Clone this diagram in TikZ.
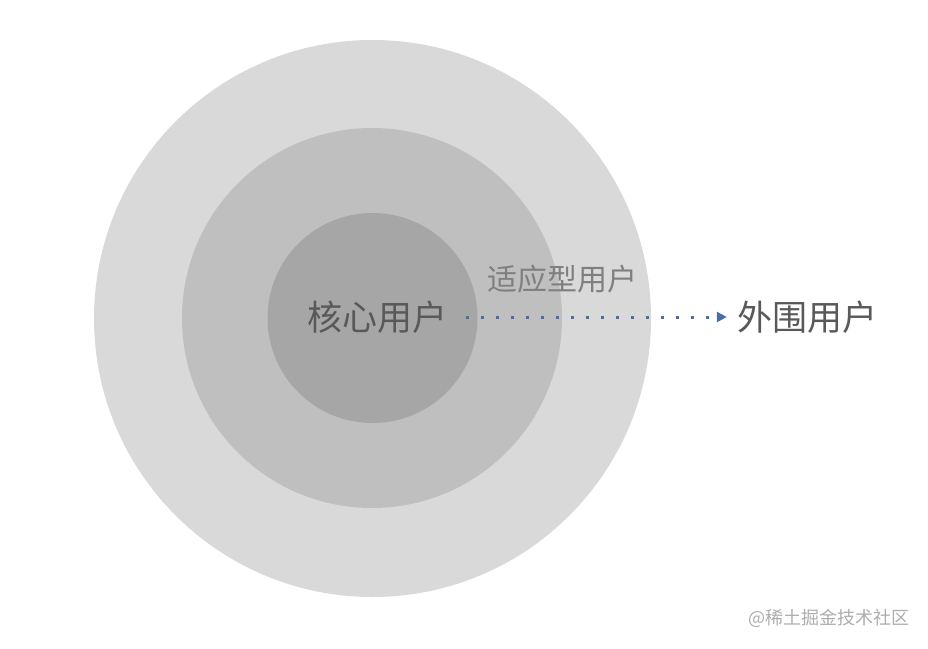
\documentclass[tikz,border=0pt]{standalone}
\usepackage{fontspec}
\setmainfont{Noto Sans CJK SC}
\usetikzlibrary{shapes, arrows.meta, positioning}
\definecolor{outerColor}{HTML}{D9D9D9}
\definecolor{midColor}{HTML}{BFBFBF}
\definecolor{coreColor}{HTML}{A6A6A6}
\definecolor{textColor}{HTML}{595959}
\definecolor{lightText}{HTML}{7F7F7F}
\definecolor{markColor}{HTML}{ADADAD}
\definecolor{arrowColor}{HTML}{4A6DA5}
\tikzstyle{ring} = [circle, 
inner sep=0pt, 
draw=none]
\tikzstyle{bigtext} = [inner sep=0pt, 
font=\fontsize{35}{40}\selectfont, 
text height=30.8pt, 
text depth=4.2pt, 
text=textColor]
\tikzstyle{midtext} = [inner sep=0pt, 
font=\fontsize{30}{34}\selectfont, 
text height=26.4pt, 
text depth=3.6pt, 
text=lightText]
\tikzstyle{marktext} = [inner sep=0pt, 
font=\fontsize{18}{20}\selectfont, 
text height=15.8pt, 
text depth=2.2pt, 
text=markColor]
\tikzstyle{dotarrow} = [line width=3pt, arrowColor, 
dash pattern=on 3pt off 12pt, 
-{Triangle[length=10pt, width=10pt]}]

\begin{document}
\begin{tikzpicture}[x=1pt,y=-1pt]
    \useasboundingbox (0,0) rectangle (928,648);
    % Rings
    \node[ring, fill=outerColor, minimum size=557pt] (outerRing) at (372.5,318.5) {};
    \node[ring, fill=midColor, minimum size=380pt] (midRing) at (372,318) {};
    \node[ring, fill=coreColor, minimum size=210pt] (coreRing) at (372.5,318) {};

    % Labels
    \node[bigtext] (core) at (377.5,317) {核心用户};
    \node[midtext] (adapt) at (562,279.5) {适应型用户};
    \node[bigtext] (outer) at (807,317) {外围用户};
    \node[marktext] (mark) at (829,618) {@稀土掘金技术社区};

    % Arrow
    \draw[dotarrow, shorten <=18pt, shorten >=10pt] (core) -- (outer);
\end{tikzpicture}
\end{document}
